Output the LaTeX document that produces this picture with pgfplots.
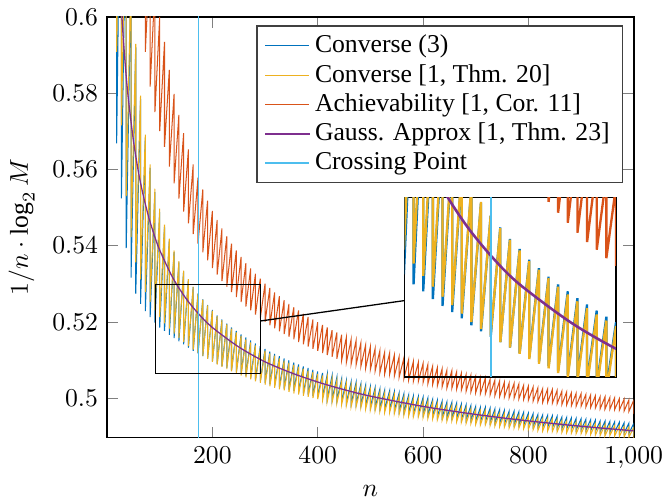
\documentclass[border=0pt]{standalone}
\usepackage{fontspec}
\setmainfont{Liberation Serif}
\usepackage{pgfplots}
\usepackage{pgfplotstable}
\pgfplotsset{compat=1.18}
\definecolor{mblue}{RGB}{0,114,189}
\definecolor{myellow}{RGB}{237,177,32}
\definecolor{morange}{RGB}{217,83,25}
\definecolor{mpurple}{RGB}{126,47,142}
\definecolor{mcyan}{RGB}{77,190,238}

\pgfplotstableread{
n bl ye or
18.2 0.660 0.660 0.700
18.2 0.5668 0.5908 0.660
27.3 0.666 0.667 0.700
27.3 0.5524 0.5715 0.660
36.4 0.6398 0.6407 0.700
36.4 0.5393 0.5530 0.660
45.5 0.6111 0.6120 0.700
45.5 0.5316 0.5422 0.660
54.5 0.5920 0.5929 0.700
54.5 0.5274 0.5356 0.660
63.6 0.5784 0.5793 0.648
63.6 0.5247 0.5311 0.601
72.7 0.5682 0.5691 0.632
72.7 0.5228 0.5278 0.5908
81.8 0.5604 0.5613 0.618
81.8 0.5212 0.5252 0.5817
90.9 0.5540 0.5549 0.608
90.9 0.5198 0.5230 0.5750
100.0 0.5488 0.5497 0.6000
100.0 0.5185 0.5212 0.5700
109.1 0.5448 0.5455 0.5934
109.1 0.5176 0.5196 0.5659
118.2 0.5412 0.5418 0.5861
118.2 0.5166 0.5182 0.5607
127.3 0.5383 0.5387 0.5798
127.3 0.5157 0.5169 0.5563
136.4 0.5356 0.5359 0.5743
136.4 0.5149 0.5158 0.5523
145.4 0.5332 0.5334 0.5695
145.4 0.5141 0.5147 0.5489
154.5 0.5311 0.5312 0.5652
154.5 0.5132 0.5136 0.5458
163.6 0.5291 0.5292 0.5613
163.6 0.5124 0.5127 0.5430
172.7 0.5274 0.5274 0.5578
172.7 0.5117 0.5119 0.5405
181.8 0.5259 0.5258 0.5547
181.8 0.5110 0.5110 0.5382
190.9 0.5244 0.5243 0.5518
190.9 0.5103 0.5103 0.5361
200.0 0.5231 0.5229 0.5491
200.0 0.5096 0.5095 0.5341
209.1 0.5217 0.5215 0.5467
209.1 0.5090 0.5088 0.5324
218.2 0.5206 0.5204 0.5445
218.2 0.5084 0.5082 0.5307
227.3 0.5195 0.5193 0.5424
227.3 0.5079 0.5076 0.5292
236.3 0.5185 0.5182 0.5405
236.3 0.5073 0.5070 0.5278
245.4 0.5176 0.5172 0.5387
245.4 0.5068 0.5064 0.5265
254.5 0.5167 0.5163 0.5370
254.5 0.5063 0.5059 0.5252
263.6 0.5159 0.5154 0.5354
263.6 0.5058 0.5054 0.5240
272.7 0.5151 0.5146 0.5340
272.7 0.5053 0.5049 0.5230
281.8 0.5143 0.5138 0.5326
281.8 0.5049 0.5044 0.5219
290.9 0.5136 0.5131 0.5313
290.9 0.5044 0.5040 0.5209
300.0 0.5129 0.5124 0.5300
300.0 0.5040 0.5035 0.5200
309.1 0.5122 0.5117 0.5289
309.1 0.5036 0.5031 0.5191
318.2 0.5116 0.5111 0.5277
318.2 0.5033 0.5027 0.5183
327.2 0.5110 0.5104 0.5267
327.2 0.5029 0.5023 0.5175
336.3 0.5104 0.5098 0.5257
336.3 0.5025 0.5020 0.5168
345.4 0.5099 0.5093 0.5247
345.4 0.5022 0.5016 0.5161
354.5 0.5093 0.5087 0.5238
354.5 0.5019 0.5012 0.5154
363.6 0.5088 0.5082 0.5230
363.6 0.5015 0.5009 0.5147
372.7 0.5083 0.5077 0.5221
372.7 0.5012 0.5006 0.5141
381.8 0.5079 0.5072 0.5213
381.8 0.5009 0.5003 0.5135
390.9 0.5074 0.5068 0.5206
390.9 0.5006 0.5000 0.5129
400.0 0.5070 0.5063 0.5199
400.0 0.5003 0.4997 0.5124
409.1 0.5066 0.5059 0.5192
409.1 0.5001 0.4994 0.5118
418.1 0.5062 0.5054 0.5185
418.1 0.4998 0.4991 0.5113
427.2 0.5058 0.5050 0.5178
427.2 0.4995 0.4988 0.5108
436.3 0.5054 0.5046 0.5172
436.3 0.4993 0.4986 0.5103
445.4 0.5050 0.5043 0.5166
445.4 0.4990 0.4983 0.5099
454.5 0.5046 0.5039 0.5160
454.5 0.4988 0.4981 0.5094
463.6 0.5043 0.5035 0.5155
463.6 0.4986 0.4978 0.5090
472.7 0.5040 0.5032 0.5150
472.7 0.4983 0.4976 0.5086
481.8 0.5036 0.5029 0.5144
481.8 0.4981 0.4974 0.5082
490.9 0.5033 0.5025 0.5139
490.9 0.4979 0.4971 0.5078
500.0 0.5030 0.5022 0.5135
500.0 0.4977 0.4969 0.5075
509.0 0.5027 0.5019 0.5130
509.0 0.4975 0.4967 0.5071
518.1 0.5024 0.5016 0.5125
518.1 0.4973 0.4965 0.5067
527.2 0.5021 0.5013 0.5121
527.2 0.4971 0.4963 0.5064
536.3 0.5018 0.5010 0.5117
536.3 0.4969 0.4961 0.5061
545.4 0.5016 0.5008 0.5112
545.4 0.4967 0.4959 0.5057
554.5 0.5013 0.5005 0.5108
554.5 0.4965 0.4957 0.5054
563.6 0.5011 0.5002 0.5105
563.6 0.4963 0.4955 0.5051
572.7 0.5008 0.5000 0.5101
572.7 0.4962 0.4953 0.5048
581.8 0.5006 0.4997 0.5097
581.8 0.4960 0.4952 0.5045
590.9 0.5003 0.4995 0.5093
590.9 0.4958 0.4950 0.5043
599.9 0.5001 0.4992 0.5090
599.9 0.4957 0.4948 0.5040
609.0 0.4999 0.4990 0.5087
609.0 0.4955 0.4946 0.5037
618.1 0.4996 0.4988 0.5083
618.1 0.4953 0.4945 0.5035
627.2 0.4994 0.4985 0.5080
627.2 0.4952 0.4943 0.5032
636.3 0.4992 0.4983 0.5077
636.3 0.4950 0.4942 0.5030
645.4 0.4990 0.4981 0.5074
645.4 0.4949 0.4940 0.5027
654.5 0.4988 0.4979 0.5071
654.5 0.4947 0.4939 0.5025
663.6 0.4986 0.4977 0.5068
663.6 0.4946 0.4937 0.5023
672.7 0.4984 0.4975 0.5065
672.7 0.4944 0.4936 0.5021
681.8 0.4982 0.4973 0.5062
681.8 0.4943 0.4934 0.5018
690.8 0.4980 0.4971 0.5060
690.8 0.4942 0.4933 0.5016
699.9 0.4978 0.4969 0.5057
699.9 0.4940 0.4931 0.5014
709.0 0.4976 0.4967 0.5054
709.0 0.4939 0.4930 0.5012
718.1 0.4975 0.4966 0.5052
718.1 0.4938 0.4929 0.5010
727.2 0.4973 0.4964 0.5049
727.2 0.4936 0.4927 0.5008
736.3 0.4971 0.4962 0.5047
736.3 0.4935 0.4926 0.5006
745.4 0.4970 0.4960 0.5045
745.4 0.4934 0.4925 0.5004
754.5 0.4968 0.4959 0.5042
754.5 0.4933 0.4924 0.5003
763.6 0.4966 0.4957 0.5040
763.6 0.4932 0.4922 0.5001
772.7 0.4965 0.4955 0.5038
772.7 0.4930 0.4921 0.4999
781.7 0.4963 0.4954 0.5036
781.7 0.4929 0.4920 0.4997
790.8 0.4962 0.4952 0.5033
790.8 0.4928 0.4919 0.4996
799.9 0.4960 0.4951 0.5031
799.9 0.4927 0.4918 0.4994
809.0 0.4959 0.4949 0.5029
809.0 0.4926 0.4917 0.4992
818.1 0.4957 0.4948 0.5027
818.1 0.4925 0.4915 0.4991
827.2 0.4956 0.4946 0.5025
827.2 0.4924 0.4914 0.4989
836.3 0.4954 0.4945 0.5023
836.3 0.4923 0.4913 0.4988
845.4 0.4953 0.4944 0.5022
845.4 0.4922 0.4912 0.4986
854.5 0.4952 0.4942 0.5020
854.5 0.4921 0.4911 0.4985
863.6 0.4950 0.4941 0.5018
863.6 0.4920 0.4910 0.4983
872.6 0.4949 0.4939 0.5016
872.6 0.4919 0.4909 0.4982
881.7 0.4948 0.4938 0.5014
881.7 0.4918 0.4908 0.4980
890.8 0.4947 0.4937 0.5013
890.8 0.4917 0.4907 0.4979
899.9 0.4945 0.4936 0.5011
899.9 0.4916 0.4906 0.4978
909.0 0.4944 0.4934 0.5009
909.0 0.4915 0.4905 0.4976
918.1 0.4943 0.4933 0.5008
918.1 0.4914 0.4904 0.4975
927.2 0.4942 0.4932 0.5006
927.2 0.4913 0.4903 0.4974
936.3 0.4940 0.4931 0.5004
936.3 0.4912 0.4902 0.4972
945.4 0.4939 0.4930 0.5003
945.4 0.4911 0.4901 0.4971
954.5 0.4938 0.4928 0.5001
954.5 0.4910 0.4901 0.4970
963.5 0.4937 0.4927 0.5000
963.5 0.4910 0.4900 0.4969
972.6 0.4936 0.4926 0.4998
972.6 0.4909 0.4899 0.4968
981.7 0.4935 0.4925 0.4997
981.7 0.4908 0.4898 0.4966
990.8 0.4934 0.4924 0.4995
990.8 0.4907 0.4897 0.4965
999.9 0.4933 0.4923 0.4994
999.9 0.4906 0.4896 0.4964
1009.0 0.4932 0.4922 0.4993
}\sawdata

\pgfplotstableread{
n v
20 0.6245
25 0.6082
30 0.5961
35 0.5867
40 0.5791
50 0.5676
60 0.5590
70 0.5524
80 0.5470
90 0.5426
100 0.5388
125 0.5315
150 0.5261
175 0.5219
200 0.5185
250 0.5134
300 0.5095
350 0.5066
400 0.5042
450 0.5022
500 0.5005
600 0.4978
700 0.4957
800 0.4940
900 0.4926
1000 0.4914
}\gaussdata

\begin{document}
\begin{tikzpicture}
\begin{axis}[
  name=main,
  scale only axis,
  width=205pt, height=163.8pt,
  xmin=0, xmax=1000,
  ymin=0.4896, ymax=0.6,
  xtick={200,400,600,800,1000},
  ytick={0.5,0.52,0.54,0.56,0.58,0.6},
  yticklabel style={/pgf/number format/fixed, /pgf/number format/precision=2},
  xticklabel style={inner xsep=0pt},
  xlabel={$n$},
  xlabel style={inner ysep=1.2pt, yshift=-2.1pt},
  ylabel={$1/n\cdot\log_2 M$},
  axis line style={line width=0.6pt},
  legend cell align=left,
  legend style={at={(0.98,0.98)}, anchor=north east, draw=black!75, line width=0.5pt, row sep=-1pt, inner ysep=1.5pt},
]
\addplot[mblue, line width=0.4pt] table[x=n, y=bl]{\sawdata};
\addlegendentry{Converse (3)}
\addplot[myellow, line width=0.4pt] table[x=n, y=ye]{\sawdata};
\addlegendentry{Converse [1, Thm. 20]}
\addplot[morange, line width=0.4pt] table[x=n, y=or]{\sawdata};
\addlegendentry{Achievability [1, Cor. 11]}
\addplot[mpurple, line width=0.5pt, smooth] table[x=n, y=v]{\gaussdata};
\addlegendentry{Gauss. Approx [1, Thm. 23]}
\addplot[mcyan, line width=0.5pt] coordinates {(173,0.48) (173,0.61)};
\addlegendentry{Crossing Point}
\draw[black, line width=0.5pt] (axis cs:91.6,0.5065) rectangle (axis cs:290.7,0.5298);
\coordinate (A) at (axis cs:290.7,0.5202);
\coordinate (insetpos) at (rel axis cs:0.565,0.1445);
\end{axis}
\begin{axis}[
  at={(insetpos)}, anchor=south west,
  scale only axis,
  width=82.2pt, height=69.9pt,
  xmin=91.6, xmax=290.7,
  ymin=0.5065, ymax=0.5298,
  xtick=\empty, ytick=\empty,
  axis line style={line width=0.6pt},
]
\addplot[mblue, line width=0.9pt] table[x=n, y=bl]{\sawdata};
\addplot[myellow, line width=0.9pt] table[x=n, y=ye]{\sawdata};
\addplot[morange, line width=0.9pt] table[x=n, y=or]{\sawdata};
\addplot[mpurple, line width=1pt, smooth] table[x=n, y=v]{\gaussdata};
\addplot[mcyan, line width=0.6pt] coordinates {(173,0.50) (173,0.54)};
\coordinate (B) at (axis cs:91.6,0.5164);
\end{axis}
\draw[black, line width=0.5pt] (A) -- (B);
\end{tikzpicture}
\end{document}
